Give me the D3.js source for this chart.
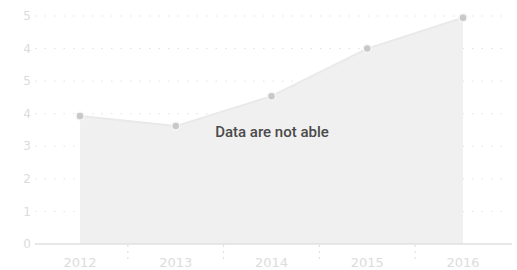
<!DOCTYPE html>
<meta charset="utf-8">
<script src="https://d3js.org/d3.v7.min.js"></script>
<style>
  body { margin: 0; background: #fff; }
  text { font-family: "DejaVu Sans", sans-serif; }
</style>
<body>
<div id="chart"></div>
<script>
  // chart data
  var years = ["2012", "2013", "2014", "2015", "2016"];
  var values = [3.93, 3.62, 4.54, 6.0, 6.95];
  var yTicks = [0, 1, 2, 3, 4, 5, 6, 7];
  var yTickLabels = ["0", "1", "2", "3", "4", "5", "4", "5"];
  var message = "Data are not able";

  var width = 517, height = 270;

  var svg = d3.select("#chart").append("svg")
    .attr("width", width)
    .attr("height", height);

  var x = d3.scalePoint()
    .domain(years)
    .range([80, 463]);

  var y = d3.scaleLinear()
    .domain([0, 7])
    .range([244, 16]);

  // dotted grid lines
  svg.append("g")
    .selectAll("line")
    .data(yTicks.slice(1))
    .enter()
    .append("line")
    .attr("x1", 35)
    .attr("x2", 510)
    .attr("y1", function(d) { return y(d); })
    .attr("y2", function(d) { return y(d); })
    .attr("stroke", "#e2e2e2")
    .attr("stroke-width", 1)
    .attr("stroke-dasharray", "1.5,8");

  // y labels
  svg.append("g")
    .selectAll("text")
    .data(yTicks)
    .enter()
    .append("text")
    .attr("x", 31)
    .attr("y", function(d) { return y(d); })
    .attr("dy", "0.35em")
    .attr("text-anchor", "end")
    .attr("font-size", 12)
    .attr("fill", "#dcdcdc")
    .text(function(d, i) { return yTickLabels[i]; });

  var pts = years.map(function(d, i) { return { year: d, value: values[i] }; });

  // area
  svg.append("path")
    .datum(pts)
    .attr("fill", "#f0f0f0")
    .attr("d", d3.area()
      .x(function(d) { return x(d.year); })
      .y0(y(0))
      .y1(function(d) { return y(d.value); }));

  svg.append("path")
    .datum(pts)
    .attr("fill", "none")
    .attr("stroke", "#e9e9e9")
    .attr("stroke-width", 2)
    .attr("d", d3.line()
      .x(function(d) { return x(d.year); })
      .y(function(d) { return y(d.value); }));

  // x axis line
  svg.append("line")
    .attr("x1", 35)
    .attr("x2", 512)
    .attr("y1", y(0))
    .attr("y2", y(0))
    .attr("stroke", "#e0e0e0")
    .attr("stroke-width", 1.5);

  // separators between categories
  var step = x.step();
  svg.append("g")
    .selectAll("line")
    .data(years.slice(1))
    .enter()
    .append("line")
    .attr("x1", function(d) { return x(d) - step / 2; })
    .attr("x2", function(d) { return x(d) - step / 2; })
    .attr("y1", y(0) + 1)
    .attr("y2", y(0) + 19)
    .attr("stroke", "#dcdcdc")
    .attr("stroke-dasharray", "2,4");

  // x labels
  svg.append("g")
    .selectAll("text")
    .data(years)
    .enter()
    .append("text")
    .attr("x", function(d) { return x(d); })
    .attr("y", 267)
    .attr("text-anchor", "middle")
    .attr("font-size", 13)
    .attr("fill", "#dcdcdc")
    .text(function(d) { return d; });

  // points
  svg.append("g")
    .selectAll("circle")
    .data(pts)
    .enter()
    .append("circle")
    .attr("cx", function(d) { return x(d.year); })
    .attr("cy", function(d) { return y(d.value); })
    .attr("r", 4)
    .attr("fill", "#c8c8c8")
    .attr("stroke", "#f6f6f6")
    .attr("stroke-width", 1.5);

  // message
  svg.append("text")
    .attr("x", 272)
    .attr("y", 137)
    .attr("text-anchor", "middle")
    .style("font-family", "Roboto, sans-serif")
    .style("font-weight", "500")
    .attr("font-size", 15)
    .attr("fill", "#4a4a4a")
    .text(message);
</script>
</body>
